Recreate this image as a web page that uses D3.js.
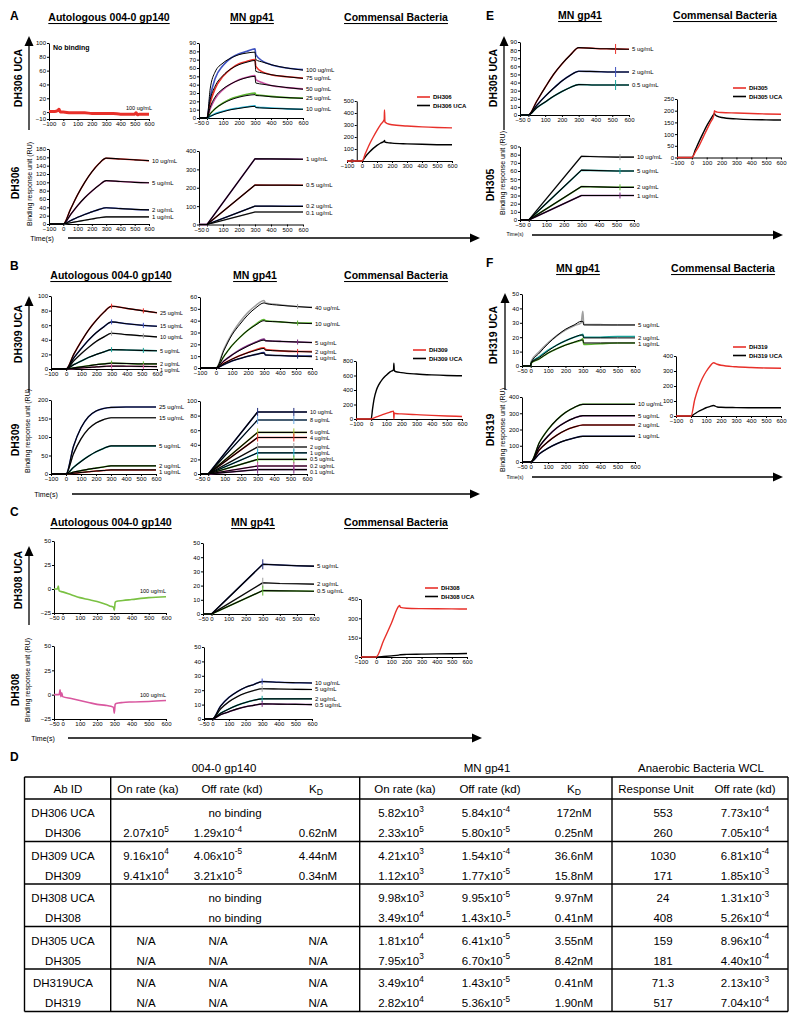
<!DOCTYPE html>
<html><head><meta charset="utf-8">
<script src="https://cdn.jsdelivr.net/npm/d3@7"></script>
<style>
body{margin:0;background:#fff;}
svg{display:block;font-family:"Liberation Sans",Arial,Helvetica,sans-serif;}
</style></head><body>
<svg id="chart" width="800" height="1021"></svg>
<script>
// ---------------- DATA ----------------
const T100 = [-100,0,100,200,300,400,500,600];
const T50  = [-50,0,100,200,300,400,500,600];

// A: DH306 UCA / DH306
const A1_t = [-100,-60,-40,-30,-20,0,50,100,150,200,250,300,350,400,450,500,510,520,530,600];
const A1_v = [1,1,2,4,0,0,-1,-1,-1,-2,-2,-2,-2,-3,-3,-3,-1,-4,-3,-3];

const A2_t = [-50,0,20,50,100,150,200,250,300,305,350,400,500,600];
const A2_conc = ["100 ug/mL","75 ug/mL","50 ug/mL","25 ug/mL","10 ug/mL"];
const A2_fit = [
 [0,0,35,55,66,72,76,78,79,70,67,64,60,57.5],
 [0,0,22,38,51,59,64,67,69,56,54,52,49.5,47.5],
 [0,0,13,25,35,41,45.5,48.5,50,42,40.5,39,36.5,34.5],
 [0,0,5,11,17.5,22,25,27,28,27,26.5,25.5,24.5,23.5],
 [0,0,2,4.5,7.5,10,11.5,13,14,12.5,12,11.5,11,10.5]];
const A2_obs = [
 [0,0,25,47,63,72,77,80,83,76,68,64,60,58],
 [0,0,18,35,50,59,65,68,70,62,55,52,49.5,48],
 [0,0,11,23,34,41,46,49,51,46,42,39,36.5,35],
 [0,0,5,11,18,23,26,28.5,30,28,27,26,24.5,24],
 [0,0,2,5,8,10.5,12,13.5,14.5,13,12.5,12,11,10.5]];

const A3_t   = [-100,0,25,50,75,100,125,148,150,153,170,200,300,400,500,600];
const A3_red = [0,0,70,140,200,255,305,345,425,325,312,302,292,284,279,276];
const A3_blk = [0,0,40,75,105,130,150,165,172,158,153,149,143,139,136,135];
const A3_leg = ["DH306","DH306 UCA"];

const A4_t = [-100,0,50,100,150,200,250,300,400,500,600];
const A4_conc = ["10 ug/mL","5 ug/mL","2 ug/mL","1 ug/mL"];
const A4_v = [
 [0,0,35,70,100,125,145,158,156,154,152],
 [0,0,22,44,63,79,93,104,102,100,99],
 [0,0,8,16,23,29,35,39,37,35,34],
 [0,0,3,6,9,12,15,17,17,17,17]];

const A5_t = [-50,0,300,400,500,600];
const A5_conc = ["1 ug/mL","0.5 ug/mL","0.2 ug/mL","0.1 ug/mL"];
const A5_v = [[0,0,358,357,356,355],[0,0,215,214,214,213],[0,0,100,100,99,99],[0,0,68,68,68,68]];

// B: DH309 UCA / DH309
const B1_t = [-100,0,50,100,150,200,250,300,400,500,600];
const B1_conc = ["25 ug/mL","15 ug/mL","10 ug/mL","5 ug/mL","2 ug/mL","1 ug/mL"];
const B1_v = [
 [0,0,20,38,54,67,78,86,83,80,77],
 [0,0,15,28,40,50,58,64.5,62,60,58.5],
 [0,0,11,21,30,38,44,49,47,45.5,44],
 [0,0,6,11,16,20,23.5,26.5,26,25.5,25],
 [0,0,1.5,3,4.5,6,7,8,7.5,7,7],
 [0,0,0.8,1.5,2.2,3,3.5,4,3.8,3.5,3.3]];

const B2_t = [-100,0,50,100,150,200,250,300,310,400,500,600];
const B2_conc = ["40 ug/mL","10 ug/mL","5 ug/mL","2 ug/mL","1 ug/mL"];
const B2_fit = [
 [0,0,15,28,37,45,51,55,54.5,53,52,51],
 [0,0,10,19,26,32,36.5,40,39.5,39,38,37.5],
 [0,0,6,11,15,18.5,21.5,23.5,23,22.5,22,21.5],
 [0,0,4,7.5,10.5,13,15,16.5,15,14.5,14,13.5],
 [0,0,3,6,8,10,11.5,12.5,11,10.5,10,9.5]];
const B2_obs = [
 [0,0,16,29,39,47,53,57,55,53.5,52,51.5],
 [0,0,10,19,26,32,37,41,40,39,38,38],
 [0,0,6,11,15.5,19,22,24.5,23,22.5,22,21.5],
 [0,0,4,7.5,10.5,13,15.5,17,15.5,14.5,14,14],
 [0,0,3,6,8,10,11.5,13,11,10.5,10,10]];

const B3_t   = [-100,0,10,20,35,50,75,100,125,148,150,153,160,200,300,400,500,600];
const B3_blk = [0,0,150,280,400,470,550,605,650,680,770,670,655,640,620,608,600,597];
const B3_red = [0,0,8,16,28,40,60,78,95,108,0,85,75,70,60,50,42,35];
const B3_leg = ["DH309","DH309 UCA"];

const B4_t = [-100,0,50,100,150,200,250,300,400,500,600];
const B4_conc = ["25 ug/mL","15 ug/mL","5 ug/mL","2 ug/mL","1 ug/mL"];
const B4_v = [
 [0,0,75,125,155,170,177,180,181,181,181],
 [0,0,55,95,122,138,147,152,152,152,152],
 [0,0,18,34,48,60,69,76,76,76,76],
 [0,0,5,9,13,16,19,22,22,22,22],
 [0,0,2,4,6,8,9.5,11,11,11,11]];

const B5_t = [-50,0,300,400,500,600];
const B5_conc = ["10 ug/mL","8 ug/mL","6 ug/mL","4 ug/mL","2 ug/mL","1 ug/mL","0.5 ug/mL","0.2 ug/mL","0.1 ug/mL"];
const B5_v = [[0,0,85,85,85,85],[0,0,74,74,74,74],[0,0,57,57,57,57],[0,0,50,50,50,50],[0,0,37,37,37,37],
 [0,0,29,29,29,29],[0,0,20,20,20,20],[0,0,11,11,11,11],[0,0,6,6,6,6]];

// C: DH308 UCA / DH308
const C1_t = [-50,-30,-25,-20,0,50,100,150,200,250,280,295,300,305,310,350,400,500,600];
const C1_v = [0,0,3,-2,-3,-6,-9,-11,-13,-16,-18,-19,-22,-14,-13,-12,-11,-9,-8];

const C2_t = [-50,0,300,400,500,600];
const C2_conc = ["5 ug/mL","2 ug/mL","0.5 ug/mL"];
const C2_v = [[0,0,35,34.5,34,33.7],[0,0,22,21.5,21.3,21],[0,0,16.5,16.3,16.2,16]];

const C3_t   = [-100,0,50,100,150,155,160,200,300,400,500,600];
const C3_red = [0,0,130,260,395,400,385,378,375,374,373,372];
const C3_blk = [0,0,4,9,15,17,18,20,22,24,25,27];
const C3_leg = ["DH308","DH308 UCA"];

const C4_t = [-50,-20,-15,-10,-5,0,50,100,150,200,250,280,295,300,305,310,350,400,500,600];
const C4_v = [0,0,5,-2,2,-2,-4,-6,-8,-10,-11,-12,-13,-19,-10,-9,-8,-7.5,-7,-6];

const C5_t = [-50,0,50,100,150,200,250,300,310,400,500,600];
const C5_conc = ["10 ug/mL","5 ug/mL","2 ug/mL","0.5 ug/mL"];
const C5_v = [
 [0,0,9,15,19,22,24,26,26,25.5,25.2,25],
 [0,0,7,12,15.5,18,19.8,21,21,20.8,20.6,20.5],
 [0,0,4,7,9.5,11.5,13,14,14,14,14,14],
 [0,0,3,5,7,8.5,9.5,10.5,10.5,10.3,10.2,10]];

// E: DH305 UCA / DH305
const E1_t = [-50,0,50,100,150,200,250,300,400,500,600];
const E1_conc = ["5 ug/mL","2 ug/mL","0.5 ug/mL"];
const E1_v = [[0,0,17,34,50,63,74,83,82,81.5,81],[0,0,12,23,33,42,49,54,53.5,53,53],[0,0,9,16,23,29,34,37.5,37,37,37]];

const E2_t = [-50,0,300,400,500,600];
const E2_conc = ["10 ug/mL","5 ug/mL","2 ug/mL","1 ug/mL"];
const E2_v = [[0,0,78,77.5,77,77],[0,0,61,60.5,60,60],[0,0,41,40.5,40,40],[0,0,30,30,30,30]];

const E3_t   = [-100,0,25,50,75,100,125,148,152,156,170,200,300,400,500,600];
const E3_red = [0,0,25,52,85,118,150,180,200,197,194,192,190,188,186,185];
const E3_blk = [0,0,35,70,103,135,162,185,188,183,177,171,165,162,161,160];
const E3_leg = ["DH305","DH305 UCA"];

// F: DH319 UCA / DH319
const F1_t = [-50,0,2,50,100,150,200,250,290,300,305,400,500,600];
const F1_conc = ["5 ug/mL","2 ug/mL","1 ug/mL"];
const F1_fit = [
 [0,0,2,9,15.5,21,25.5,28.5,31,31,28.5,28.5,28.5,28.5],
 [0,0,2,6,10.5,14.5,17.5,20,21.5,21.5,19.5,19.5,19.5,19.5],
 [0,0,2,5,9,12,14.5,16.5,18,18,16,16,16,16]];
const F1_obs = [
 [0,0,3,10,16,21,25,28,30,38,29,28.7,28.5,28.5],
 [0,0,2,6.5,11,14.5,17.5,20,21.5,22,20,20,20.5,20.5],
 [0,0,2,5,9,12,14.5,16.5,18,19,15,15.5,16,16]];

const F2_t = [-50,0,50,100,150,200,250,300,400,500,600];
const F2_conc = ["10 ug/mL","5 ug/mL","2 ug/mL","1 ug/mL"];
const F2_v = [
 [0,0,120,200,260,305,335,355,355,355,355],
 [0,0,95,160,210,245,270,285,285,285,285],
 [0,0,75,125,165,195,215,228,228,228,228],
 [0,0,50,85,112,133,148,158,158,158,158]];

const F3_t   = [-100,0,25,50,75,100,125,150,175,200,300,400,500,600];
const F3_red = [0,0,110,190,250,295,330,355,345,338,328,323,320,318];
const F3_blk = [0,0,15,30,42,55,63,70,60,58,56,55,55,55];
const F3_leg = ["DH319","DH319 UCA"];

// D: table
const grpHeaders = ["004-0 gp140","MN gp41","Anaerobic Bacteria WCL"];
const colHeaders = ["Ab ID","On rate (ka)","Off rate (kd)","K_D","On rate (ka)","Off rate (kd)","K_D","Response Unit","Off rate (kd)"];
const abIds   = ["DH306 UCA","DH306","DH309 UCA","DH309","DH308 UCA","DH308","DH305 UCA","DH305","DH319UCA","DH319"];
const gpKa    = ["","2.07x10^5","9.16x10^4","9.41x10^4","","","N/A","N/A","N/A","N/A"];
const gpKd    = ["no binding","1.29x10^-4","4.06x10^-5","3.21x10^-5","no binding","no binding","N/A","N/A","N/A","N/A"];
const gpKD    = ["","0.62nM","4.44nM","0.34nM","","","N/A","N/A","N/A","N/A"];
const mnKa    = ["5.82x10^3","2.33x10^5","4.21x10^3","1.12x10^3","9.98x10^3","3.49x10^4","1.81x10^4","7.95x10^3","3.49x10^4","2.82x10^4"];
const mnKd    = ["5.84x10^-4","5.80x10^-5","1.54x10^-4","1.77x10^-5","9.95x10^-5","1.43x10-^5","6.41x10^-5","6.70x10^-5","1.43x10^-5","5.36x10^-5"];
const mnKD    = ["172nM","0.25nM","36.6nM","15.8nM","9.97nM","0.41nM","3.55nM","8.42nM","0.41nM","1.90nM"];
const bacRU   = ["553","260","1030","171","24","408","159","181","71.3","517"];
const bacKd   = ["7.73x10^-4","7.05x10^-4","6.81x10^-4","1.85x10^-3","1.31x10^-3","5.26x10^-4","8.96x10^-4","4.40x10^-4","2.13x10^-3","7.04x10^-4"];

// ---------------- DRAWING ----------------
const RED="#e8302a", BLUE="#3f52c0", NAVY="#1f2a7a", GREEN="#5cb531", TEAL="#1aa39a", CYAN="#29b6d6",
      MAG="#c84fa0", PURPLE="#7b2a7f", GRAY="#a0a0a0", LBLUE="#6aa8e0", YGREEN="#a8c83a", PINK="#d9579f";
const svg = d3.select("#chart");

function txt(s, x, y, o={}) {
  const t = svg.append("text").attr("x",x).attr("y",y)
    .attr("font-size",o.size||6).attr("font-weight",o.bold?"bold":"normal")
    .attr("text-anchor",o.anchor||"start").attr("dominant-baseline","central")
    .attr("fill",o.fill||"#000").text(s);
  if (o.rot) t.attr("transform",`rotate(${o.rot},${x},${y})`);
  if (o.ul) t.attr("text-decoration","underline");
  return t;
}
function vArrow(x, yb, yt){
  svg.append("line").attr("x1",x).attr("x2",x).attr("y1",yb).attr("y2",yt+8).attr("stroke","#000").attr("stroke-width",1.3);
  svg.append("path").attr("d",`M${x},${yt}L${x-4.5},${yt+10}L${x+4.5},${yt+10}Z`).attr("fill","#000");
}
function hArrow(x0, x1, y){
  svg.append("line").attr("x1",x0).attr("x2",x1-8).attr("y1",y).attr("y2",y).attr("stroke","#000").attr("stroke-width",1.3);
  svg.append("path").attr("d",`M${x1},${y}L${x1-10},${y-4.5}L${x1-10},${y+4.5}Z`).attr("fill","#000");
}

function plot(p){
  const x = d3.scaleLinear().domain(p.xd).range(p.xr);
  const y = d3.scaleLinear().domain(p.yd).range(p.yr);
  const g = svg.append("g");
  const yAxX = p.yAxisAt!=null ? x(p.yAxisAt) : p.xr[0];
  const gx = g.append("g").attr("transform",`translate(0,${p.yr[0]})`)
    .call(d3.axisBottom(x).tickValues(p.xt).tickSize(2).tickSizeOuter(0).tickPadding(1));
  gx.select(".domain").attr("d",`M${yAxX},0.5H${p.xr[1]}`);
  const gy = g.append("g").attr("transform",`translate(${yAxX},0)`)
    .call(d3.axisLeft(y).tickValues(p.yt).tickSize(2).tickSizeOuter(0).tickPadding(1));
  [gx,gy].forEach(a=>{ a.attr("font-size",6).attr("font-family",null);
    a.selectAll("text").attr("fill","#000"); a.selectAll("line,path").attr("stroke","#000"); });
  const gen = d3.line().x(d=>x(d[0])).y(d=>y(d[1])).curve(p.linear?d3.curveLinear:d3.curveMonotoneX);
  (p.series||[]).forEach(s=>{
    g.append("path").attr("d",gen(s.t.map((t,i)=>[t,s.v[i]])))
     .attr("fill","none").attr("stroke",s.color).attr("stroke-width",s.w).attr("stroke-linejoin","round");
  });
  return {x,y,g};
}
// value of a series at time t (linear between stored points) - used to place spikes/labels
function valAt(times, vals, t){
  const i = d3.bisectLeft(times, t);
  if (i<=0) return vals[0];
  if (i>=times.length) return vals[vals.length-1];
  const f = (t-times[i-1])/(times[i]-times[i-1]);
  return vals[i-1] + f*(vals[i]-vals[i-1]);
}
function concPanel(lay, times, concs, fits, obs, cols, opt={}){
  const series = [];
  const wC = obs ? 1.6 : 1.5, wK = obs ? 1.0 : 1.15;
  concs.forEach((c,i)=>series.push({t:times, v:(obs||fits)[i], color:cols[i], w:wC}));
  concs.forEach((c,i)=>series.push({t:times, v:fits[i], color:"#000", w:wK}));
  const P = plot(Object.assign({}, lay, {series, linear:opt.linear}));
  // spikes (injection artefacts) drawn in the data colour
  (opt.spikes||[]).forEach(ts=>{
    concs.forEach((c,i)=>{
      const v = valAt(times,(obs||fits)[i],ts);
      P.g.append("line").attr("x1",P.x(ts)).attr("x2",P.x(ts)).attr("y1",P.y(v)-opt.spikeH).attr("y2",P.y(v)+opt.spikeH)
        .attr("stroke",cols[i]).attr("stroke-width",1);
    });
  });
  // labels at the end of each fitted curve, nudged apart if they collide
  const fs = opt.fs || 6, gap = opt.gap || 6.2;
  const ys = concs.map((c,i)=>P.y(fits[i][fits[i].length-1]));
  const order = d3.range(concs.length).sort((a,b)=>ys[a]-ys[b]);
  let last = -1e9;
  order.forEach(i=>{ if (ys[i] < last + gap) ys[i] = last + gap; last = ys[i]; });
  concs.forEach((c,i)=>txt(c, lay.xr[1]+3, ys[i], {size:fs}));
  return P;
}
function commPanel(lay, t, red, blk, leg, legX, legY){
  plot(Object.assign({}, lay, {series:[{t, v:blk, color:"#000", w:1.4},{t, v:red, color:RED, w:1.4}]}));
  [[RED,leg[0]],["#000",leg[1]]].forEach((d,i)=>{
    const yy = legY + i*8.5;
    svg.append("line").attr("x1",legX).attr("x2",legX+13).attr("y1",yy).attr("y2",yy).attr("stroke",d[0]).attr("stroke-width",1.6);
    txt(d[1], legX+16, yy, {size:6, bold:true});
  });
}
function titles(y, cx1, cx2, cx3){
  if (cx1!=null) txt("Autologous 004-0 gp140", cx1, y, {size:10.5, bold:true, anchor:"middle", ul:true});
  txt("MN gp41", cx2, y, {size:10.5, bold:true, anchor:"middle", ul:true});
  txt("Commensal Bacteria", cx3, y, {size:10.5, bold:true, anchor:"middle", ul:true});
}

// ---- Panel A ----
txt("A", 10, 15.5, {size:12, bold:true});
titles(17, 109, 252, 396);
vArrow(29, 130, 36); txt("DH306 UCA", 18, 78, {size:10.5, bold:true, rot:-90, anchor:"middle"});
txt("DH306", 15, 183, {size:10.5, bold:true, rot:-90, anchor:"middle"});
txt("Binding response unit (RU)", 29, 184, {size:7, rot:-90, anchor:"middle"});
{
  const P = plot({xd:[-100,600], xr:[49,149], yd:[-10,100], yr:[119,43], xt:T100, yt:[-10,0,20,40,60,80,100],
    series:[{t:A1_t, v:A1_v, color:RED, w:3}]});
  txt("No binding", 53, 47, {size:7, bold:true});
  txt("100 ug/mL", 126, P.y(A1_v[A1_v.length-1])-6, {size:5.5});
}
concPanel({xd:[-50,600], xr:[199,303], yd:[0,90], yr:[118,43], xt:T50, yt:d3.range(0,91,10)},
  A2_t, A2_conc, A2_fit, A2_obs, [BLUE,RED,MAG,GREEN,CYAN]);
commPanel({xd:[-100,600], xr:[347,452], yd:[0,500], yr:[161,101], xt:T100, yt:d3.range(0,501,100), yAxisAt:-35},
  A3_t, A3_red, A3_blk, A3_leg, 417, 97);
concPanel({xd:[-100,600], xr:[49,149], yd:[0,180], yr:[224,149], xt:T100, yt:d3.range(0,181,20)},
  A4_t, A4_conc, A4_v, null, [RED,MAG,BLUE,GRAY]);
concPanel({xd:[-50,600], xr:[199,303], yd:[0,400], yr:[224.5,151], xt:T50, yt:d3.range(0,401,100)},
  A5_t, A5_conc, A5_v, null, [PURPLE,RED,BLUE,GRAY], {linear:true});
txt("Time(s)", 42, 238, {size:7, anchor:"middle"}); hArrow(68, 480, 238);

// ---- Panel B ----
txt("B", 10, 265.5, {size:12, bold:true});
titles(275, 111, 255, 396);
vArrow(29, 392, 296); txt("DH309 UCA", 18, 334, {size:10.5, bold:true, rot:-90, anchor:"middle"});
txt("DH309", 15, 440, {size:10.5, bold:true, rot:-90, anchor:"middle"});
txt("Binding response unit (RU)", 27, 431, {size:7, rot:-90, anchor:"middle"});
concPanel({xd:[-100,600], xr:[51,157], yd:[0,100], yr:[369,296], xt:T100, yt:d3.range(0,101,20)},
  B1_t, B1_conc, B1_v, null, [RED,BLUE,GRAY,TEAL,GREEN,PINK], {spikes:[300,510], spikeH:2.5, fs:5.5, gap:6});
concPanel({xd:[-100,600], xr:[200,312], yd:[0,60], yr:[368,297], xt:T100, yt:d3.range(0,61,10)},
  B2_t, B2_conc, B2_fit, B2_obs, [GRAY,GREEN,PURPLE,RED,NAVY], {spikes:[510], spikeH:2.5});
commPanel({xd:[-100,600], xr:[356,462], yd:[0,800], yr:[419,361], xt:T100, yt:d3.range(0,801,200)},
  B3_t, B3_red, B3_blk, B3_leg, 413, 350);
concPanel({xd:[-100,600], xr:[51,156], yd:[0,200], yr:[474,400], xt:T100, yt:d3.range(0,201,50)},
  B4_t, B4_conc, B4_v, null, [BLUE,GRAY,TEAL,GREEN,RED]);
concPanel({xd:[-50,600], xr:[200,307], yd:[0,100], yr:[474,401], xt:T50, yt:d3.range(0,101,20)},
  B5_t, B5_conc, B5_v, null, [NAVY,LBLUE,YGREEN,RED,GRAY,CYAN,GREEN,MAG,PURPLE],
  {linear:true, spikes:[300,520], spikeH:4, fs:5.5, gap:5.8});
txt("Time(s)", 46, 494, {size:7, anchor:"middle"}); hArrow(72, 480, 494);

// ---- Panel C ----
txt("C", 10, 512, {size:12, bold:true});
titles(522, 111, 253, 396);
vArrow(29, 625, 546); txt("DH308 UCA", 18, 580, {size:10.5, bold:true, rot:-90, anchor:"middle"});
txt("DH308", 15, 690, {size:10.5, bold:true, rot:-90, anchor:"middle"});
txt("Binding response unit (RU)", 27, 680, {size:7, rot:-90, anchor:"middle"});
{
  const P = plot({xd:[-50,600], xr:[54,166], yd:[-25,50], yr:[613,541], xt:T50, yt:[-25,0,25,50],
    series:[{t:C1_t, v:C1_v, color:"#7ac143", w:1.6}]});
  txt("100 ug/mL", 140, P.y(C1_v[C1_v.length-1])-6, {size:5.5});
}
concPanel({xd:[-50,600], xr:[203,314], yd:[0,50], yr:[614,543], xt:T50, yt:d3.range(0,51,10)},
  C2_t, C2_conc, C2_v, null, [NAVY,GRAY,GREEN], {linear:true, spikes:[300], spikeH:5});
commPanel({xd:[-100,600], xr:[361,467], yd:[0,450], yr:[657,599], xt:T100, yt:[0,150,300,450]},
  C3_t, C3_red, C3_blk, C3_leg, 425, 588);
{
  const P = plot({xd:[-50,600], xr:[54,166], yd:[-25,50], yr:[719,646], xt:T50, yt:[-25,0,25,50],
    series:[{t:C4_t, v:C4_v, color:PINK, w:1.6}]});
  txt("100 ug/mL", 140, P.y(C4_v[C4_v.length-1])-6, {size:5.5});
}
concPanel({xd:[-50,600], xr:[204,312], yd:[0,50], yr:[719,647], xt:T50, yt:d3.range(0,51,10)},
  C5_t, C5_conc, C5_v, null, [BLUE,GRAY,TEAL,PURPLE], {spikes:[300], spikeH:3});
txt("Time(s)", 43, 738, {size:7, anchor:"middle"}); hArrow(68, 482, 738);

// ---- Panel E ----
txt("E", 486, 15.5, {size:12, bold:true});
titles(15, null, 580, 725);
vArrow(504, 130, 36); txt("DH305 UCA", 493, 78, {size:10.5, bold:true, rot:-90, anchor:"middle"});
txt("DH305", 490, 185, {size:10.5, bold:true, rot:-90, anchor:"middle"});
txt("Binding response unit (RU)", 502, 173, {size:7, rot:-90, anchor:"middle"});
concPanel({xd:[-50,600], xr:[520,629], yd:[0,90], yr:[115,42], xt:T50, yt:d3.range(0,91,10)},
  E1_t, E1_conc, E1_v, null, [RED,BLUE,TEAL], {spikes:[520], spikeH:5});
concPanel({xd:[-50,600], xr:[520,634], yd:[0,90], yr:[220,146.5], xt:T50, yt:d3.range(0,91,10)},
  E2_t, E2_conc, E2_v, null, [GRAY,TEAL,GREEN,PURPLE], {linear:true, spikes:[520], spikeH:3});
commPanel({xd:[-100,600], xr:[677,781], yd:[0,250], yr:[157.5,99], xt:T100, yt:d3.range(0,251,50)},
  E3_t, E3_red, E3_blk, E3_leg, 733, 88);
txt("Time(s)", 515, 234, {size:5, anchor:"middle"}); hArrow(532, 783, 235);

// ---- Panel F ----
txt("F", 486, 263, {size:12, bold:true});
titles(268, null, 578, 723);
vArrow(505, 390, 293); txt("DH319 UCA", 493, 335, {size:10.5, bold:true, rot:-90, anchor:"middle"});
txt("DH319", 490, 430, {size:10.5, bold:true, rot:-90, anchor:"middle"});
txt("Binding response unit (RU)", 502, 430, {size:7, rot:-90, anchor:"middle"});
concPanel({xd:[-50,600], xr:[522,635], yd:[0,50], yr:[366,294], xt:T50, yt:d3.range(0,51,10)},
  F1_t, F1_conc, F1_fit, F1_obs, [GRAY,TEAL,GREEN]);
concPanel({xd:[-50,600], xr:[522,635], yd:[0,400], yr:[462,397], xt:T50, yt:d3.range(0,401,100)},
  F2_t, F2_conc, F2_v, null, [GREEN,PURPLE,RED,NAVY]);
commPanel({xd:[-100,600], xr:[676,781], yd:[0,400], yr:[416,356], xt:T100, yt:d3.range(0,401,100)},
  F3_t, F3_red, F3_blk, F3_leg, 733, 347);
txt("Time(s)", 515, 477, {size:5, anchor:"middle"}); hArrow(532, 783, 477);

// ---- Panel D: table ----
function rich(s, x, y, size){
  const t = svg.append("text").attr("x",x).attr("y",y).attr("font-size",size)
    .attr("text-anchor","middle").attr("dominant-baseline","central");
  if (s.includes("_")) { const [a,b]=s.split("_"); t.append("tspan").text(a);
    t.append("tspan").attr("dy",3).attr("font-size",size*0.75).text(b); return t; }
  const [a,b] = s.split("^");
  t.append("tspan").text(a);
  if (b!==undefined) t.append("tspan").attr("dy",-4.5).attr("font-size",size*0.72).text(b);
  return t;
}
txt("D", 10, 757, {size:12, bold:true});
const TL=24.5, TR=788, TT=777, TH=799, GH=42.5;
const vSeps=[110.7,359.7,612];
[[224,0],[487,1],[701,2]].forEach(d=>txt(grpHeaders[d[1]], d[0], 768, {size:11.5, anchor:"middle"}));
const hdrX=[68,148,232,316,405,490,574,656,745];
colHeaders.forEach((h,i)=>rich(h, hdrX[i], 789, 11.5));
const tline=(x1,y1,x2,y2,w)=>svg.append("line").attr("x1",x1).attr("y1",y1).attr("x2",x2).attr("y2",y2).attr("stroke","#000").attr("stroke-width",w);
tline(TL,TT,TR,TT,1.4); tline(TL,TH,TR,TH,1.4);
for (let g=1; g<=5; g++) tline(TL,TH+GH*g,TR,TH+GH*g,1.6);
tline(TL,TT,TL,TH+GH*5,1.4); tline(TR,TT,TR,TH+GH*5,1.4);
vSeps.forEach(x=>tline(x,TT,x,TH+GH*5,1.4));
const valX=[63,146,218,318,401,486,574,663,745];
abIds.forEach((id,i)=>{
  const yy = TH + GH*Math.floor(i/2) + (i%2===0 ? 14 : 34);
  const row=[id,gpKa[i],gpKd[i],gpKD[i],mnKa[i],mnKd[i],mnKD[i],bacRU[i],bacKd[i]];
  row.forEach((v,j)=>{
    if (!v) return;
    const xx = (v==="no binding") ? 235 : valX[j];
    rich(v, xx, yy, 11.5);
  });
});
</script></body></html>
